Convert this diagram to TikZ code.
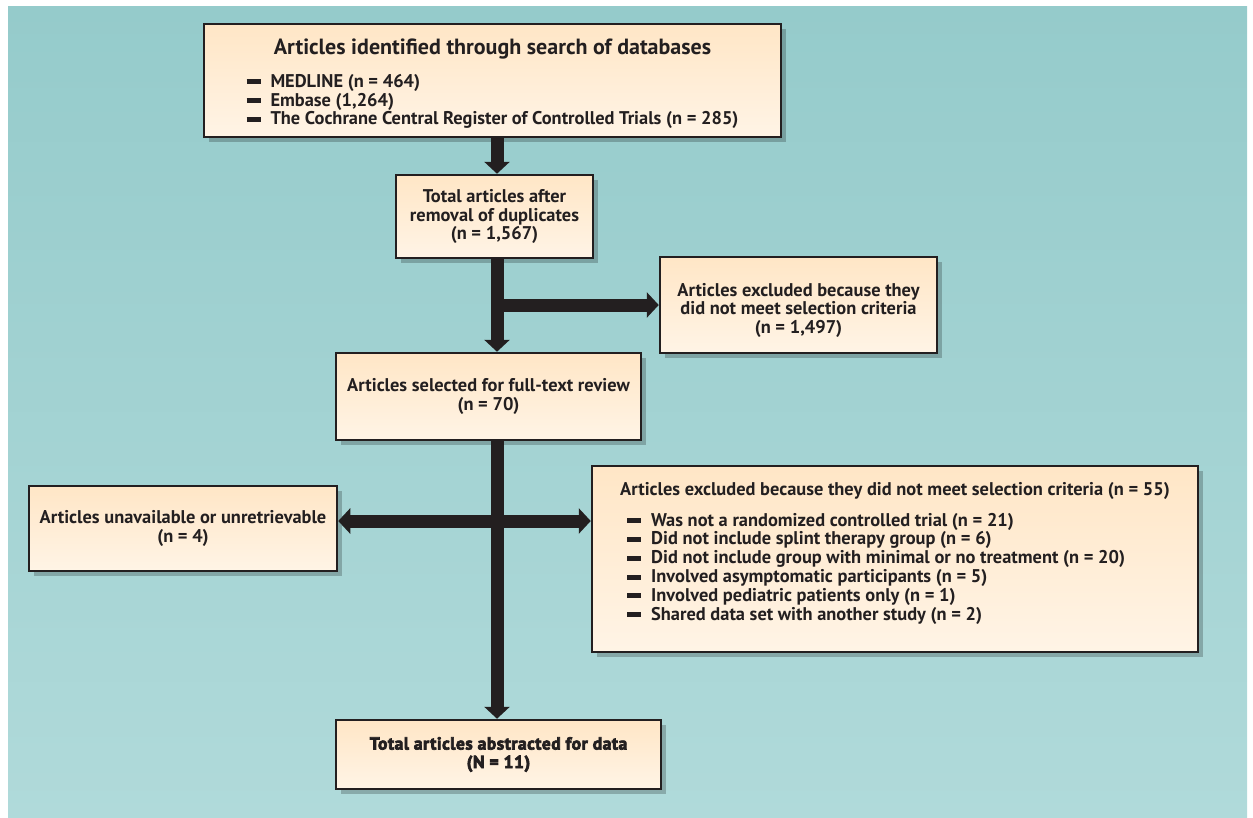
\documentclass[tikz,border=0pt]{standalone}
\usepackage{fontspec}
\setmainfont{PT Sans}
\newfontfamily\heavyfont{PT Sans}[FakeBold=4,LetterSpace=3]
\usetikzlibrary{arrows.meta,shadows}
\definecolor{ink}{HTML}{231F20}
\definecolor{bgtop}{HTML}{95CBCB}
\definecolor{bgbot}{HTML}{B0DADA}
\definecolor{boxtop}{HTML}{FFE6C6}
\definecolor{boxbot}{HTML}{FFF4E6}
\newcommand\bul{\rule[3pt]{14pt}{5pt}\hspace{10pt}}
\begin{document}
\begin{tikzpicture}[x=1pt,y=-1pt,
    box/.style={draw=ink,line width=2.5pt,top color=boxtop,bottom color=boxbot,
      inner sep=0pt,align=center,text=ink,font=\bfseries\fontsize{18.4}{18.8}\selectfont,
      drop shadow={shadow xshift=5pt,shadow yshift=-5pt,fill=black,opacity=0.22}},
    flow/.style={draw=ink,line width=13pt,-{Triangle[length=12pt,width=25pt]}},
    bothflow/.style={draw=ink,line width=13pt,{Triangle[length=12pt,width=25pt]}-{Triangle[length=12pt,width=25pt]}}]
  \useasboundingbox (0,0) rectangle (1253,817);
  \shade[top color=bgtop,bottom color=bgbot] (8,6) rectangle (1247,817);

  \node[box,minimum width=577pt,minimum height=113pt] (search) at (492.5,80.5)
    {{\fontsize{22}{24}\selectfont\rule{0pt}{24pt}Articles identified through search of databases}\\[14pt]
     \begin{tabular}{@{}l@{}}
       \bul MEDLINE (n = 464)\\
       \bul Embase (1,264)\\
       \bul The Cochrane Central Register of Controlled Trials (n = 285)
     \end{tabular}};
  \node[box,minimum width=197pt,minimum height=83pt] (dedup) at (494.5,216.5)
    {Total articles after\\removal of duplicates\\(n = 1,567)};
  \node[box,minimum width=277pt,minimum height=96pt] (excl) at (798.5,305)
    {\rule{0pt}{24pt}Articles excluded because they\\did not meet selection criteria\\(n = 1,497)};
  \node[box,minimum width=305pt,minimum height=87pt] (fulltext) at (488.5,396.5)
    {Articles selected for full-text review\\(n = 70)};
  \node[box,minimum width=308pt,minimum height=85pt] (unavail) at (183,528.5)
    {Articles unavailable or unretrievable\\(n = 4)};
  \node[box,minimum width=606pt,minimum height=186pt] (reasons) at (895,559)
    {\begin{tabular}{@{}l@{}}
       Articles excluded because they did not meet selection criteria (n = 55)\\[12pt]
       \hspace{7pt}\bul Was not a randomized controlled trial (n = 21)\\
       \hspace{7pt}\bul Did not include splint therapy group (n = 6)\\
       \hspace{7pt}\bul Did not include group with minimal or no treatment (n = 20)\\
       \hspace{7pt}\bul Involved asymptomatic participants (n = 5)\\
       \hspace{7pt}\bul Involved pediatric patients only (n = 1)\\
       \hspace{7pt}\bul Shared data set with another study (n = 2)\\[10pt]
     \end{tabular}};
  \node[box,minimum width=325pt,minimum height=69pt,font=\heavyfont\bfseries\fontsize{17.5}{18.5}\selectfont] (final) at (498.5,754.5)
    {Total articles abstracted for data\\(N = 11)};

  \coordinate (trunk) at (497,0);
  \coordinate (hbar) at (0,521);
  \draw[flow] (search.south -| trunk) -- (dedup.north -| trunk);
  \draw[flow] (dedup.south -| trunk) -- (fulltext.north -| trunk);
  \draw[flow] (trunk |- excl.west) -- (excl.west);
  \draw[flow] (fulltext.south -| trunk) -- (final.north -| trunk);
  \draw[bothflow] (unavail.east |- hbar) -- (reasons.west |- hbar);
\end{tikzpicture}
\end{document}
